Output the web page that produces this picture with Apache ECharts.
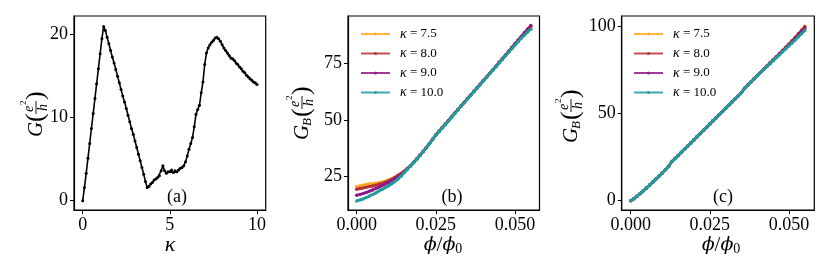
<!DOCTYPE html>
<html><head><meta charset="utf-8">
<script src="https://cdn.jsdelivr.net/npm/echarts@6/dist/echarts.min.js"></script>
<style>html,body{margin:0;padding:0;background:#fff}#c{width:830px;height:277px}</style>
</head><body><div id="c"></div>
<script>
// ---------- data ----------
const kappaA = [0,0.1,0.2,0.3,0.4,0.5,0.6,0.7,0.8,0.9,1.0,1.1,1.2,1.3,1.4,1.5,1.6,1.7,1.8,1.9,2.0,2.1,2.2,2.3,2.4,2.5,2.6,2.7,2.8,2.9,3.0,3.1,3.2,3.3,3.4,3.5,3.6,3.7,3.8,3.9,4.0,4.1,4.2,4.3,4.4,4.5,4.6,4.7,4.8,4.9,5.0,5.1,5.2,5.3,5.4,5.5,5.6,5.7,5.8,5.9,6.0,6.1,6.2,6.3,6.4,6.5,6.6,6.7,6.8,6.9,7.0,7.1,7.2,7.3,7.4,7.5,7.6,7.7,7.8,7.9,8.0,8.1,8.2,8.3,8.4,8.5,8.6,8.7,8.8,8.9,9.0,9.1,9.2,9.3,9.4,9.5,9.6,9.7,9.8,9.9,10.0];
const condA = [0.0,1.6,3.3,5.1,6.9,8.7,10.5,12.3,14.1,15.9,17.7,19.5,21.0,20.5,19.7,18.9,18.1,17.3,16.6,15.8,15.0,14.2,13.4,12.6,11.9,11.1,10.3,9.5,8.7,8.0,7.2,6.4,5.6,4.8,4.0,3.2,2.3,1.6,1.7,2.0,2.2,2.5,2.6,2.8,3.0,3.6,4.2,3.6,3.3,3.5,3.5,3.7,3.4,3.6,3.5,3.7,3.9,4.0,4.2,4.7,5.4,6.2,6.9,7.6,8.9,10.4,11.0,11.5,13.0,14.3,16.4,17.8,18.4,18.8,19.1,19.3,19.6,19.7,19.5,19.2,18.8,18.4,18.1,17.8,17.5,17.2,17.1,16.9,16.6,16.4,16.1,15.9,15.6,15.4,15.1,14.9,14.7,14.5,14.3,14.2,14.0];

const phi = [0,0.001,0.002,0.003,0.004,0.005,0.006,0.007,0.008,0.009,0.010,0.011,0.012,0.013,0.014,0.015,0.016,0.017,0.018,0.019,0.020,0.021,0.022,0.023,0.024,0.025,0.026,0.027,0.028,0.029,0.030,0.031,0.032,0.033,0.034,0.035,0.036,0.037,0.038,0.039,0.040,0.041,0.042,0.043,0.044,0.045,0.046,0.047,0.048,0.049,0.050,0.051,0.052,0.053,0.054,0.055];

const gB75 = [20.4,20.7,21.0,21.3,21.5,21.7,21.9,22.1,22.4,22.8,23.3,23.9,24.6,25.4,26.3,27.3,28.4,29.6,31.1,32.7,34.3,36.0,37.7,39.5,41.4,43.3,44.9,46.5,48.1,49.7,51.4,53.0,54.6,56.2,57.8,59.4,61.0,62.6,64.2,65.8,67.4,69.0,70.6,72.2,73.8,75.4,77.0,78.6,80.2,81.8,83.4,85.0,86.6,88.1,89.7,91.2];
const gB80 = [19.2,19.5,19.8,20.1,20.4,20.7,21.0,21.4,21.8,22.3,22.9,23.6,24.4,25.3,26.2,27.2,28.4,29.7,31.2,32.8,34.4,36.1,37.8,39.6,41.5,43.4,45.0,46.6,48.2,49.8,51.5,53.1,54.7,56.3,57.9,59.5,61.1,62.7,64.3,65.9,67.5,69.1,70.7,72.3,73.9,75.6,77.2,78.9,80.5,82.2,83.9,85.5,87.1,88.8,90.4,92.0];
const gB90 = [16.5,16.9,17.3,17.8,18.3,18.9,19.5,20.1,20.8,21.5,22.2,23.0,23.9,24.9,25.9,27.0,28.3,29.6,31.1,32.7,34.3,36.0,37.7,39.5,41.4,43.3,44.9,46.5,48.1,49.7,51.4,53.0,54.6,56.2,57.8,59.4,61.0,62.6,64.2,65.8,67.4,69.0,70.6,72.2,73.8,75.5,77.1,78.8,80.4,82.1,83.7,85.3,87.0,88.6,90.2,91.8];
const gB100 = [14.0,14.4,14.9,15.5,16.2,16.9,17.6,18.4,19.1,19.9,20.7,21.6,22.5,23.7,25.0,26.5,28.0,29.5,31.0,32.6,34.2,35.9,37.6,39.4,41.3,43.2,44.8,46.4,48.0,49.6,51.3,52.9,54.5,56.1,57.7,59.3,60.9,62.5,64.1,65.7,67.3,68.9,70.5,72.1,73.7,75.3,76.9,78.5,80.1,81.7,83.3,84.8,86.3,87.7,89.1,90.3];

const gC75 = [0.0,1.2,2.6,4.1,5.7,7.3,9.0,10.7,12.4,14.1,15.9,17.7,19.8,22.4,24.1,25.9,27.7,29.5,31.3,33.1,34.9,36.7,38.5,40.3,42.1,43.9,45.7,47.5,49.3,51.1,52.9,54.7,56.5,58.3,60.1,61.9,64.4,66.2,68.0,69.8,71.6,73.4,75.2,77.0,78.8,80.6,82.4,84.2,86.0,87.9,89.7,91.6,93.6,95.6,97.7,99.8];
const gC80 = [0.0,1.2,2.6,4.1,5.7,7.3,9.0,10.7,12.4,14.1,15.9,17.7,19.8,22.4,24.1,25.9,27.7,29.5,31.3,33.1,34.9,36.7,38.5,40.3,42.1,43.9,45.7,47.5,49.3,51.1,52.9,54.7,56.5,58.3,60.1,61.9,64.4,66.2,68.0,69.8,71.6,73.4,75.2,77.0,78.8,80.6,82.4,84.2,86.0,87.8,89.6,91.5,93.5,95.5,97.5,99.5];
const gC90 = [0.0,1.2,2.6,4.1,5.7,7.3,9.0,10.7,12.4,14.1,15.9,17.7,19.8,22.4,24.1,25.9,27.7,29.5,31.3,33.1,34.9,36.7,38.5,40.3,42.1,43.9,45.7,47.5,49.3,51.1,52.9,54.7,56.5,58.3,60.1,61.9,64.4,66.2,68.0,69.8,71.6,73.4,75.1,76.9,78.6,80.4,82.1,83.9,85.7,87.4,89.2,91.0,92.9,94.8,96.7,98.7];
const gC100 = [0.0,1.2,2.6,4.1,5.7,7.3,9.0,10.7,12.4,14.1,15.9,17.7,19.8,22.4,24.1,25.9,27.7,29.5,31.3,33.1,34.9,36.7,38.5,40.3,42.1,43.9,45.7,47.5,49.3,51.1,52.9,54.7,56.5,58.3,60.1,61.9,64.4,66.2,68.0,69.8,71.6,73.3,75.0,76.7,78.4,80.1,81.8,83.5,85.2,86.9,88.6,90.3,92.0,93.8,95.6,97.4];

const seriesNames = ['κ = 7.5','κ = 8.0','κ = 9.0','κ = 10.0'];
const seriesColors = ['#FFAA1A','#B5303A','#8C1A8C','#1F9C9C'];

const ticksAx = [0,5,10], ticksAy = [0,10,20];
const ticksBx = [0,0.025,0.05], ticksBy = [25,50,75];
const ticksCx = [0,0.025,0.05], ticksCy = [0,50,100];

// ---------- chart ----------
const FONT = '"Liberation Serif","DejaVu Serif",serif';
const GREEK = '"DejaVu Serif","Liberation Serif",serif';
const zip = (xs, ys) => xs.map((x, i) => [x, ys[i]]);

function xAxis(gi, min, max, ticks, fmt) {
  return {type:'value', gridIndex:gi, min:min, max:max,
    axisLine:{show:true, onZero:false, lineStyle:{color:'#000', width:1.2}},
    axisTick:{show:true, inside:false, length:4, lineStyle:{color:'#000', width:1}, customValues:ticks},
    axisLabel:{show:true, customValues:ticks, margin:6, color:'#000', fontFamily:FONT, fontSize:18, formatter:fmt},
    splitLine:{show:false}};
}
function yAxis(gi, min, max, ticks) {
  return {type:'value', gridIndex:gi, min:min, max:max,
    axisLine:{show:true, onZero:false, lineStyle:{color:'#000', width:1.2}},
    axisTick:{show:true, inside:false, length:4, lineStyle:{color:'#000', width:1}, customValues:ticks},
    axisLabel:{show:true, customValues:ticks, margin:6, color:'#000', fontFamily:FONT, fontSize:18, formatter: v => String(v)},
    splitLine:{show:false}};
}

const grids = [
  {left:74, top:16, width:191.7, height:194},
  {left:348, top:16, width:191.5, height:194},
  {left:621.7, top:16, width:192.6, height:194}
].map(g => Object.assign(g, {show:true, borderColor:'#000', borderWidth:1.2, backgroundColor:'transparent', containLabel:false}));

const series = [{
  name:'A', type:'line', xAxisIndex:0, yAxisIndex:0, data: zip(kappaA, condA),
  symbol:'circle', symbolSize:3, showSymbol:true,
  lineStyle:{color:'#000', width:1.6}, itemStyle:{color:'#000'}, z:3
}];
const gBs = [gB75, gB80, gB90, gB100];
const gCs = [gC75, gC80, gC90, gC100];
[1,2].forEach(p => {
  (p === 1 ? gBs : gCs).forEach((arr, i) => {
    series.push({
      name: seriesNames[i], type:'line', xAxisIndex:p, yAxisIndex:p, data: zip(phi, arr),
      symbol:'circle', symbolSize:3.5, showSymbol:true,
      lineStyle:{color:seriesColors[i], width:2.6}, itemStyle:{color:seriesColors[i]}, z:3+i
    });
  });
});

function legend(left) {
  return {orient:'vertical', left:left, top:27, padding:0, itemWidth:29, itemHeight:4, itemGap:5.5,
    data: seriesNames, selectedMode:false,
    itemStyle:{opacity:0.85}, lineStyle:{width:2, opacity:0.85},
    textStyle:{color:'#000', fontFamily:FONT, fontSize:13, lineHeight:14, padding:[0,0,0,5],
      rich:{i:{fontStyle:'italic', fontFamily:FONT, fontSize:14}}},
    formatter: n => '{i|κ} = ' + n.split('= ')[1]};
}

function yLabel(gx, gy, sub) {
  const ch = [];
  let x = 0;
  ch.push({type:'text', x:x, y:0, style:{text:'G', fontFamily:FONT, fontStyle:'italic', fontSize:21, fill:'#000', align:'left', verticalAlign:'middle'}});
  x += 15;
  if (sub) {
    ch.push({type:'text', x:x-1, y:6, style:{text:'B', fontFamily:FONT, fontStyle:'italic', fontSize:13, fill:'#000', align:'left', verticalAlign:'middle'}});
    x += 8;
  }
  ch.push({type:'text', x:x, y:0, style:{text:'(', fontFamily:FONT, fontSize:26, fill:'#000', align:'left', verticalAlign:'middle'}});
  x += 8;
  ch.push({type:'text', x:x+5, y:-7, style:{text:'e', fontFamily:FONT, fontStyle:'italic', fontSize:14, fill:'#000', align:'center', verticalAlign:'middle'}});
  ch.push({type:'text', x:x+9, y:-12, style:{text:'2', fontFamily:FONT, fontSize:9, fill:'#000', align:'left', verticalAlign:'middle'}});
  ch.push({type:'line', shape:{x1:x, y1:0, x2:x+13, y2:0}, style:{stroke:'#000', lineWidth:0.9}});
  ch.push({type:'text', x:x+6.5, y:7.5, style:{text:'h', fontFamily:FONT, fontStyle:'italic', fontSize:14, fill:'#000', align:'center', verticalAlign:'middle'}});
  x += 14;
  ch.push({type:'text', x:x, y:0, style:{text:')', fontFamily:FONT, fontSize:26, fill:'#000', align:'left', verticalAlign:'middle'}});
  return {type:'group', x:gx, y:gy, rotation:Math.PI/2, children:ch};
}
function txt(x, y, text, size, rich) {
  return {type:'text', x:x, y:y, style:{text:text, fontFamily:FONT, fontSize:size, fill:'#000', align:'center', verticalAlign:'middle', rich:rich}};
}
const richPhi = {i:{fontStyle:'italic', fontFamily:GREEK, fontSize:19}, s:{fontFamily:FONT, fontSize:14, padding:[8,0,0,0]}, n:{fontFamily:FONT, fontSize:21}};

const option = {
  animation:false,
  backgroundColor:'#fff',
  grid: grids,
  xAxis:[xAxis(0,-0.5,10.5,ticksAx, v=>String(v)), xAxis(1,-0.00275,0.05775,ticksBx, v=>v.toFixed(3)), xAxis(2,-0.00284,0.058,ticksCx, v=>v.toFixed(3))],
  yAxis:[yAxis(0,-1.12,22.25,ticksAy), yAxis(1,10.0,96.2,ticksBy), yAxis(2,-5.3,105.7,ticksCy)],
  legend:[legend(360), legend(633)],
  series: series,
  graphic:[
    yLabel(36, 137, false),
    yLabel(302, 140, true),
    yLabel(571, 143, true),
    txt(177, 197, '(a)', 18),
    txt(452, 197, '(b)', 18),
    txt(723, 197, '(c)', 18),
    {type:'text', x:170, y:245, style:{text:'κ', fontFamily:FONT, fontStyle:'italic', fontSize:22, fill:'#000', align:'center', verticalAlign:'middle'}},
    txt(443, 245, '{i|ϕ}{n|/}{i|ϕ}{s|0}', 21, richPhi),
    txt(721, 245, '{i|ϕ}{n|/}{i|ϕ}{s|0}', 21, richPhi)
  ]
};
const chart = echarts.init(document.getElementById('c'), null, {renderer:'canvas'});
chart.setOption(option);
</script></body></html>
